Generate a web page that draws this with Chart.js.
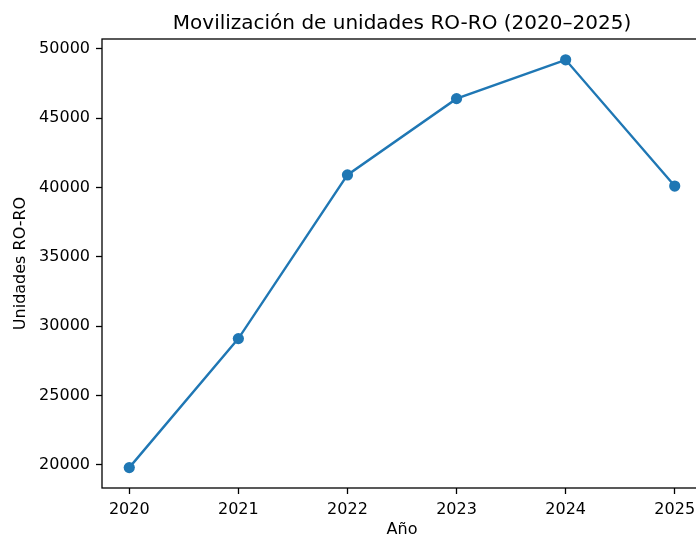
<!DOCTYPE html>
<html>
<head>
<meta charset="utf-8">
<script src="https://cdn.jsdelivr.net/npm/chart.js@4.4.1/dist/chart.umd.min.js"></script>
<style>
html,body{margin:0;padding:0;background:#fff;overflow:hidden;}
canvas{display:block;}
</style>
</head>
<body>
<canvas id="c" width="720" height="538" style="width:720px;height:538px"></canvas>
<script>
const years = [2020, 2021, 2022, 2023, 2024, 2025];
const unidades = [19800, 29100, 40900, 46400, 49200, 40100];
const yTicks = [20000, 25000, 30000, 35000, 40000, 45000, 50000];
const titleText = 'Movilización de unidades RO-RO (2020–2025)';
const xLabel = 'Año';
const yLabel = 'Unidades RO-RO';

const FONT = "'DejaVu Sans', sans-serif";
const PLOT = {left: 102, top: 39, right: 702, bottom: 488};

const frame = {
  id: 'frame',
  afterDatasetsDraw(chart) {
    const {ctx, chartArea: a} = chart;
    ctx.save();
    ctx.strokeStyle = '#000';
    ctx.lineWidth = 1.3;
    ctx.strokeRect(a.left, a.top, a.right - a.left, a.bottom - a.top);
    ctx.restore();
  },
  afterDraw(chart) {
    const {ctx, chartArea: a} = chart;
    ctx.save();
    ctx.fillStyle = '#000';
    ctx.font = "20px " + FONT;
    ctx.textAlign = 'center';
    ctx.textBaseline = 'alphabetic';
    ctx.fillText(titleText, (a.left + a.right) / 2, 28.5);
    ctx.restore();
  }
};

new Chart(document.getElementById('c'), {
  type: 'line',
  data: {
    datasets: [{
      data: years.map((y, i) => ({x: y, y: unidades[i]})),
      borderColor: '#1f77b4',
      backgroundColor: '#1f77b4',
      borderWidth: 2.4,
      pointRadius: 5.6,
      pointHoverRadius: 5.6,
      pointBorderWidth: 0,
      tension: 0,
      clip: false
    }]
  },
  options: {
    responsive: false,
    animation: false,
    devicePixelRatio: 1,
    layout: {padding: {top: PLOT.top, right: 720 - PLOT.right, left: 0, bottom: 0}},
    plugins: {legend: {display: false}, tooltip: {enabled: false}, title: {display: false}},
    scales: {
      x: {
        type: 'linear',
        min: 2019.75,
        max: 2025.25,
        afterFit(s) { s.height = 538 - PLOT.bottom; },
        afterBuildTicks(s) { s.ticks = years.map(v => ({value: v})); },
        grid: {drawOnChartArea: false, tickLength: 6, tickColor: '#000', tickWidth: 1.3},
        border: {display: false},
        ticks: {
          color: '#000', padding: 6, maxRotation: 0, autoSkip: false,
          font: {family: FONT, size: 16},
          callback: v => String(v)
        },
        title: {display: true, text: xLabel, color: '#000', font: {family: FONT, size: 16, lineHeight: 1.0}, padding: {top: 0, bottom: 0}}
      },
      y: {
        type: 'linear',
        min: 18330,
        max: 50700,
        afterFit(s) { s.width = PLOT.left; },
        afterBuildTicks(s) { s.ticks = yTicks.map(v => ({value: v})); },
        grid: {drawOnChartArea: false, tickLength: 6, tickColor: '#000', tickWidth: 1.3},
        border: {display: false},
        ticks: {
          color: '#000', padding: 6, autoSkip: false,
          font: {family: FONT, size: 16},
          callback: v => String(v)
        },
        title: {display: true, text: yLabel, color: '#000', font: {family: FONT, size: 16, lineHeight: 1.2}, padding: {top: 11, bottom: 0}}
      }
    }
  },
  plugins: [frame]
});
</script>
</body>
</html>
